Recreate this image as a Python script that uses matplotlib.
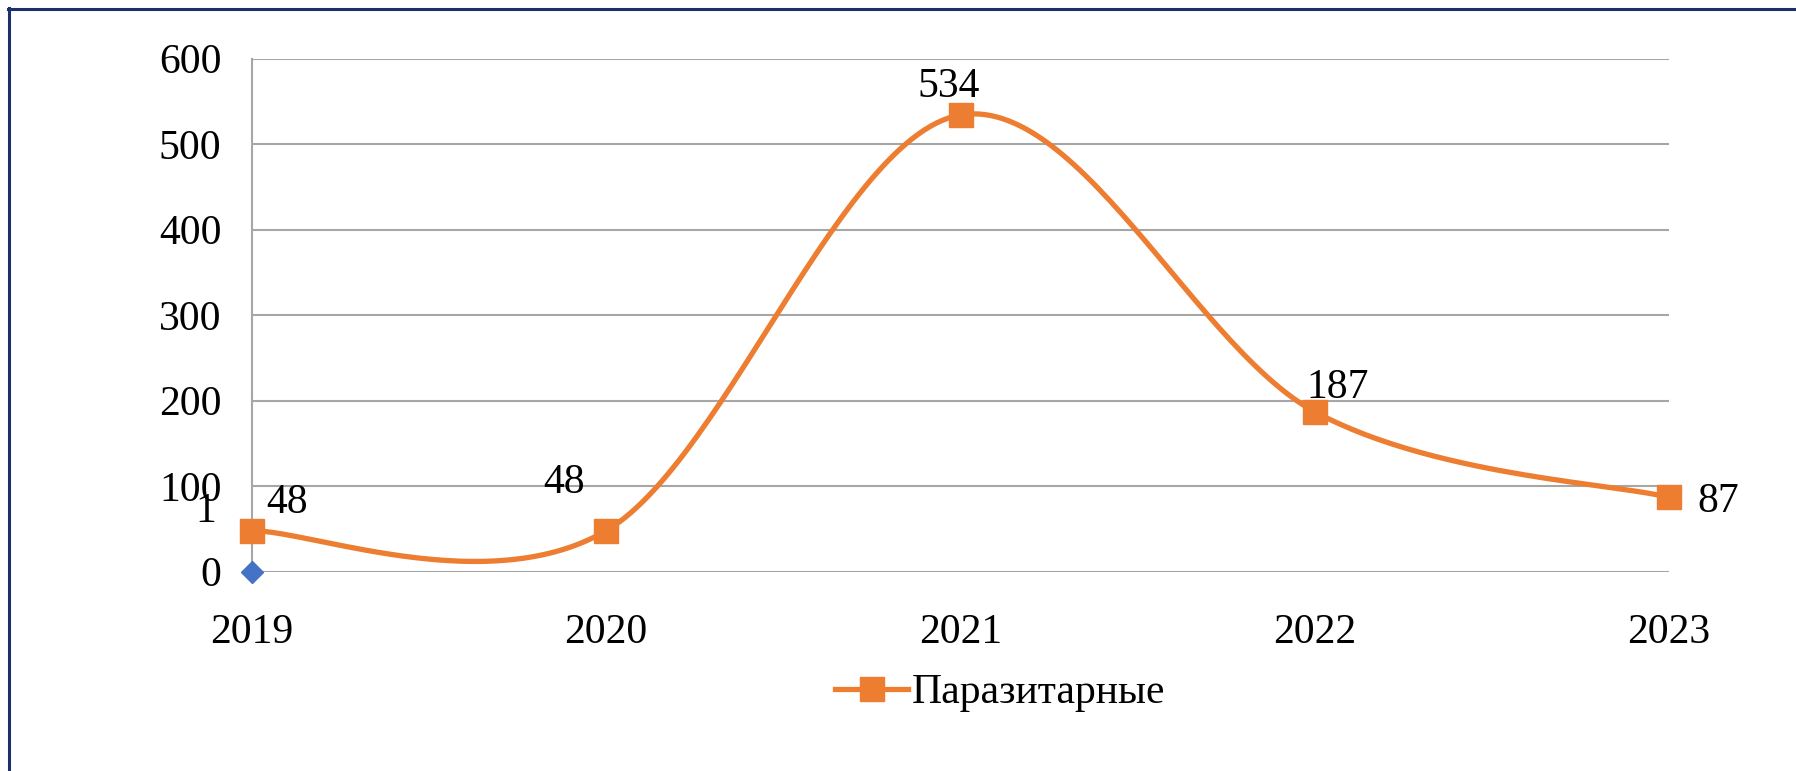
import matplotlib
matplotlib.use("Agg")
import matplotlib.pyplot as plt
from matplotlib.lines import Line2D
import numpy as np

years = [2019, 2020, 2021, 2022, 2023]
parasitic = [48, 48, 534, 187, 87]
series_name = "Паразитарные"
other_years = [2019]
other_values = [0]
other_label = "1"
yticks = [0, 100, 200, 300, 400, 500, 600]

ORANGE = "#ED7D31"
BLUE = "#4472C4"
GRID = "#A6A6A6"
NAVY = "#1B2F6B"

plt.rcParams['font.family'] = ['Liberation Serif', 'DejaVu Serif']
FS = 30

fig = plt.figure(figsize=(17.96, 7.71), dpi=100)
fig.patch.set_facecolor("white")
W, H = 1796, 771
ax = fig.add_axes([252 / W, (H - 571.7) / H, (1669 - 252) / W, (571.7 - 58.5) / H])


def smooth(xs, ys, n=60):
    """Catmull-Rom (Excel-style smoothed line) through data points."""
    xs = np.asarray(xs, float)
    ys = np.asarray(ys, float)
    m = len(xs)
    px = np.concatenate([[xs[0]], xs, [xs[-1]]])
    py = np.concatenate([[ys[0]], ys, [ys[-1]]])
    ox, oy = [], []
    for i in range(m - 1):
        p0x, p1x, p2x, p3x = px[i], px[i + 1], px[i + 2], px[i + 3]
        p0y, p1y, p2y, p3y = py[i], py[i + 1], py[i + 2], py[i + 3]
        m1x, m2x = (p2x - p0x) / 2, (p3x - p1x) / 2
        m1y, m2y = (p2y - p0y) / 2, (p3y - p1y) / 2
        t = np.linspace(0, 1, n)
        h00 = 2 * t**3 - 3 * t**2 + 1
        h10 = t**3 - 2 * t**2 + t
        h01 = -2 * t**3 + 3 * t**2
        h11 = t**3 - t**2
        ox.append(h00 * p1x + h10 * m1x + h01 * p2x + h11 * m2x)
        oy.append(h00 * p1y + h10 * m1y + h01 * p2y + h11 * m2y)
    return np.concatenate(ox), np.concatenate(oy)


sx, sy = smooth(years, parasitic)
ax.plot(sx, sy, color=ORANGE, lw=3.8, solid_capstyle="round", zorder=3, clip_on=False)
ax.plot(years, parasitic, linestyle="none", marker="s", markersize=17.5,
        color=ORANGE, zorder=4, clip_on=False)
ax.plot(other_years, other_values, linestyle="none", marker="D", markersize=11,
        color=BLUE, zorder=4, clip_on=False)

ax.set_xlim(years[0], years[-1])
ax.set_ylim(0, 600)
ax.set_yticks(yticks)
ax.set_xticks(years)
ax.set_xticklabels([str(y) for y in years])
ax.tick_params(axis="both", length=0, labelsize=FS, colors="black")
ax.tick_params(axis="y", pad=22)
ax.tick_params(axis="x", pad=30)
ax.yaxis.grid(True, color=GRID, lw=1.5, zorder=0)
ax.set_axisbelow(True)
for s in ["top", "right", "bottom"]:
    ax.spines[s].set_visible(False)
ax.spines["left"].set_color(GRID)
ax.spines["left"].set_linewidth(1.5)

# data labels (offsets in pixels)
offsets = [(35, 28), (-42, 48), (-12, 28), (23, 24), (49, -4)]
for x, y, (dx, dy) in zip(years, parasitic, offsets):
    ax.annotate(str(y), (x, y), xytext=(dx * 0.72, dy * 0.72), textcoords="offset points",
                ha="center", va="center", fontsize=FS, zorder=5, annotation_clip=False)
ax.annotate(other_label, (other_years[0], other_values[0]), xytext=(-46 * 0.72, 60 * 0.72),
            textcoords="offset points", ha="center", va="center", fontsize=FS,
            annotation_clip=False)

handle = Line2D([], [], color=ORANGE, lw=3.8, marker="s", markersize=17.5)
fig.legend([handle], [series_name], loc="center", bbox_to_anchor=(1000 / W, 78 / H),
           frameon=False, fontsize=FS, handlelength=1.75, handletextpad=0.08)

# frame lines (top and left)
fig.add_artist(Line2D([8 / W, 1.0], [(H - 9) / H, (H - 9) / H], color=NAVY, lw=2.2,
                      transform=fig.transFigure))
fig.add_artist(Line2D([9 / W, 9 / W], [0, (H - 8) / H], color=NAVY, lw=2.2,
                      transform=fig.transFigure))

fig.savefig("out.png", dpi=100, facecolor="white")
